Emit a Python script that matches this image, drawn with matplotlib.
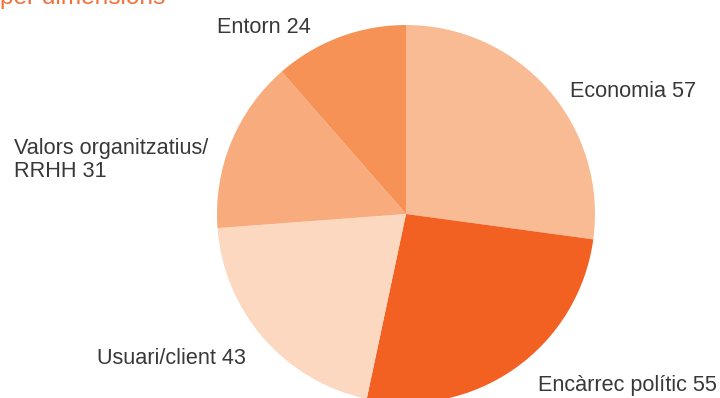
import matplotlib
matplotlib.use('Agg')
import matplotlib.pyplot as plt

# values
labels = ['Economia 57', 'Encàrrec polític 55', 'Usuari/client 43',
          'Valors organitzatius/\nRRHH 31', 'Entorn 24']
values = [57, 55, 43, 31, 24]
colors = ['#F9BB94', '#F26122', '#FCD8C1', '#F8AC7D', '#F79257']

W, H = 720, 398
fig = plt.figure(figsize=(W / 100, H / 100), dpi=100)
ax = fig.add_axes([0, 0, 1, 1])

cx, cy, r = 406, H - 214, 189
ax.pie(values, colors=colors, startangle=90, counterclock=False,
       center=(cx, cy), radius=r, frame=True,
       wedgeprops={'linewidth': 0})
ax.set_xlim(0, W)
ax.set_ylim(0, H)
ax.set_aspect('equal')
ax.axis('off')

font = 'Liberation Sans'
txt = dict(fontsize=15.6, color='#383838', family=font, va='baseline', ha='left')
# label positions (left edge, baseline of last line) in pixels from the top
pos = [(570, 97), (538, 391), (97, 364), (14, 177), (217, 33)]
for lab, (x, y) in zip(labels, pos):
    ax.text(x, H - y, lab, linespacing=1.15, **txt)

# title, mostly cut off at the top edge as in the source
ax.text(0, H - 4, 'per dimensions', fontsize=17.6, color='#F4703A', family=font,
        va='baseline', ha='left')

fig.savefig('out.png', dpi=100)
